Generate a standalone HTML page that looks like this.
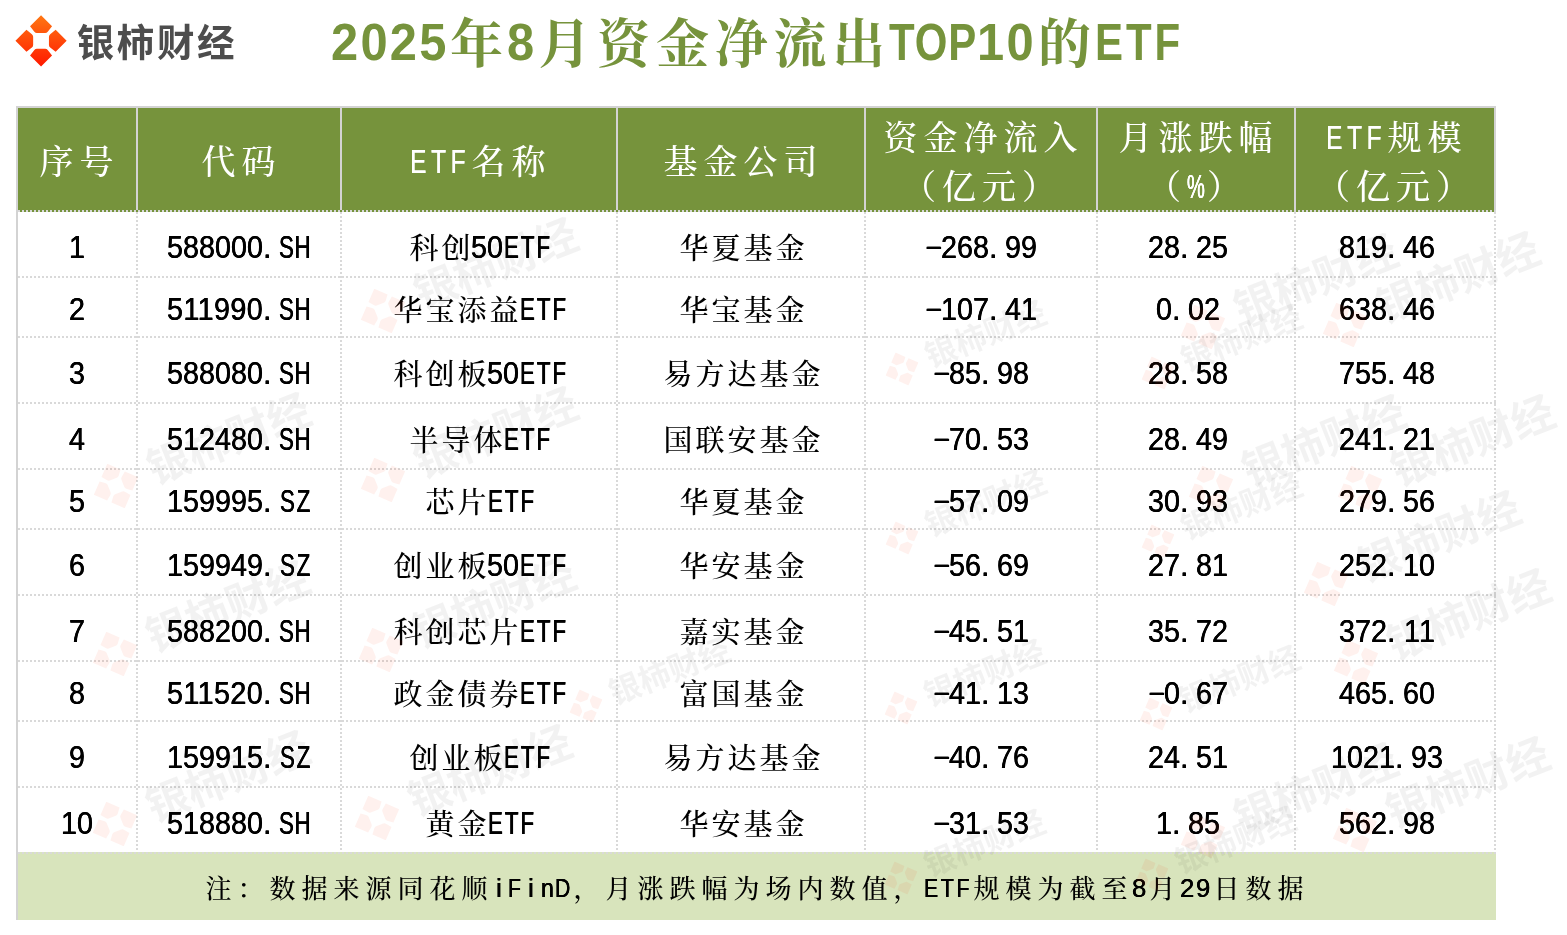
<!DOCTYPE html>
<html lang="zh-CN">
<head>
<meta charset="utf-8">
<title>2025年8月资金净流出TOP10的ETF</title>
<style>
html,body{margin:0;padding:0;background:#fff}
body{width:1567px;height:935px;overflow:hidden}
.sheet{position:relative;width:1567px;height:935px;overflow:hidden;background:#fff;
  font-family:"Liberation Serif","Noto Serif CJK SC",serif;font-weight:500;color:#000}
.z{position:relative}
.l{font-family:"Liberation Sans","Noto Sans CJK SC",sans-serif;font-weight:400;letter-spacing:0;line-height:0;white-space:nowrap;position:relative}
.w{display:inline-block;white-space:nowrap;text-align:left;vertical-align:baseline}
.w>span{display:inline-block;transform-origin:0 50%}
.k{text-align:center}
.k>span{transform-origin:50% 50%}
.p{display:inline-block;text-align:left}
.m>span{transform:translate(.6px,-2.3px) scale(1.83,.9)}
.d,.p,.k{text-shadow:.35px 0 0 currentColor,-.2px 0 0 currentColor}
.u{text-shadow:.45px 0 0 currentColor,-.3px 0 0 currentColor}
.logo{position:absolute;left:10px;top:10px;width:62px;height:62px}
.logo svg{display:block}
.brand{position:absolute;left:76.7px;top:16px;margin:0;height:54px;line-height:54px;white-space:nowrap;
  font-family:"Liberation Sans","Noto Sans CJK SC",sans-serif;font-weight:700;font-size:37.5px;letter-spacing:2.6px;color:#4d4d4d}
.title{position:absolute;left:329.5px;top:6px;margin:0;height:72px;line-height:72px;white-space:nowrap;
  font-weight:700;color:#76933c;font-size:53px}
.title .z{letter-spacing:5.8px;left:3px;top:3px}
.title .l{font-size:52.5px;font-weight:700}
.title .d,.title .u{text-shadow:none}
.t{position:absolute;left:18px;top:108px;width:1478px;border-collapse:collapse;border-spacing:0;table-layout:fixed}
.t th,.t td{padding:0 2px 0 0;border:0;margin:0;font-weight:500;text-align:center;vertical-align:top;overflow:hidden}
.t .c{display:block;overflow:hidden;white-space:nowrap;text-align:center}
.t thead th{background:#76933c;color:#fff;height:104px}
.t thead .c{height:104px;font-size:34px}
.t thead .z{letter-spacing:6px;left:2.5px}
.t thead .l{font-size:33.5px;top:-1px;left:-1.5px}
.t thead .ln+.ln .z{left:1px}
.t thead .ln+.ln .l{left:0}
.t thead .u{text-shadow:.3px 0 0 currentColor}
.t thead .pc{position:relative;left:-5.5px}
.t thead .ln{display:block;overflow:hidden;white-space:nowrap}
.t thead .one .ln{height:104px;line-height:109px}
.t thead .two .ln{height:50px;line-height:61px}
.t thead .two .ln+.ln{height:54px;line-height:60px}
.t tbody .c{font-size:29px}
.t tbody .sp .c{padding-right:16px}
.t tbody .z{letter-spacing:3px;left:2.5px;top:1.5px}
.t tbody .l{font-size:30.5px;top:.6px}
.t tr.ra td,.t tr.ra .c{height:66px;line-height:70px}
.t tr.rb td,.t tr.rb .c{height:60px;line-height:62px}
.t tr.rc td,.t tr.rc .c{height:64px;line-height:70px}
.t tfoot td{background:#d8e4bc;height:68px;padding:0}
.t tfoot .c{height:68px;line-height:75px;font-size:26px}
.t tfoot .z{letter-spacing:6px;left:0.5px}
.t tfoot .l{font-size:26.5px;left:-2px;top:-1px}
.grid i{position:absolute;display:block}
.hs{background:#d3d3d3}
.hd{background:repeating-linear-gradient(90deg,#d9d9d9 0,#d9d9d9 2px,transparent 2px,transparent 4px)}
.vd{background:repeating-linear-gradient(180deg,#d9d9d9 0,#d9d9d9 2px,transparent 2px,transparent 4px)}
.wm{position:absolute;left:0;top:0;width:1567px;height:935px;overflow:hidden;pointer-events:none}
.wk{position:absolute;height:48px;line-height:48px;white-space:nowrap;transform-origin:24px 24px;transform:rotate(-21.5deg);
  font-family:"Liberation Sans","Noto Sans CJK SC",sans-serif;font-weight:700;font-size:43px;color:rgba(0,0,0,.052)}
.wk svg{position:absolute;left:0;top:0;fill:rgba(255,50,10,.07)}
.wk span{position:absolute;left:60px;top:-2px}
.ws{transform:rotate(-21.5deg) scale(.74)}
</style>
</head>
<body>
<div class="sheet">
<div class="logo"><svg width="62" height="62" viewBox="0 0 62 62" role="img" aria-label="logo"><defs><linearGradient id="lg" gradientUnits="userSpaceOnUse" x1="0" y1="5" x2="0" y2="57"><stop offset="0" stop-color="#ff7713"/><stop offset="1" stop-color="#ff1800"/></linearGradient></defs><path fill="url(#lg)" d="M31.05,5.25L42.05,16.25L37.74,21.70Q36.75,22.95 35.15,22.95L26.95,22.95Q25.35,22.95 24.36,21.70L20.05,16.25Z M56.65,30.85L45.65,41.85L40.20,37.54Q38.95,36.55 38.95,34.95L38.95,26.75Q38.95,25.15 40.20,24.16L45.65,19.85Z M31.05,56.45L20.05,45.45L24.36,40.00Q25.35,38.75 26.95,38.75L35.15,38.75Q36.75,38.75 37.74,40.00L42.05,45.45Z M5.45,30.85L16.45,19.85L21.90,24.16Q23.15,25.15 23.15,26.75L23.15,34.95Q23.15,36.55 21.90,37.54L16.45,41.85Z"/></svg></div>
<div class="brand">银柿财经</div>
<h1 class="title"><span class="l"><span class="w d" style="width:117.6px"><span style="transform:scaleX(0.930);letter-spacing:2.41px;margin-left:1.12px">2025</span></span></span><span class="z">年</span><span class="l"><span class="w d" style="width:29.4px"><span style="transform:scaleX(0.930);letter-spacing:2.41px;margin-left:1.12px">8</span></span></span><span class="z">月资金净流出</span><span class="l"><span class="w u" style="width:88.2px"><span style="transform:scaleX(0.800);letter-spacing:1.09px;margin-left:0.44px">TOP</span></span><span class="w d" style="width:58.8px"><span style="transform:scaleX(0.930);letter-spacing:2.41px;margin-left:1.12px">10</span></span></span><span class="z">的</span><span class="l"><span class="w u" style="width:88.2px"><span style="transform:scaleX(0.800);letter-spacing:3.70px;margin-left:1.48px">ETF</span></span></span></h1>
<table class="t">
<colgroup><col style="width:120px"><col style="width:204px"><col style="width:276px"><col style="width:248px"><col style="width:232px"><col style="width:198px"><col style="width:200px"></colgroup>
<thead>
<tr><th><div class="c one"><span class="ln"><span class="z">序号</span></span></div></th><th><div class="c one"><span class="ln"><span class="z">代码</span></span></div></th><th><div class="c one"><span class="ln"><span class="l"><span class="w u" style="width:60px"><span style="transform:scaleX(0.730);letter-spacing:6.31px;margin-left:2.30px">ETF</span></span></span><span class="z">名称</span></span></div></th><th><div class="c one"><span class="ln"><span class="z">基金公司</span></span></div></th><th><div class="c two"><span class="ln"><span class="z">资金净流入</span></span><span class="ln"><span class="z">（亿元）</span></span></div></th><th><div class="c two"><span class="ln"><span class="z">月涨跌幅</span></span><span class="ln"><span class="z">（</span><span class="l"><span class="w k pc" style="width:20px"><span style="transform:scaleX(0.604)">%</span></span></span><span class="z">）</span></span></div></th><th><div class="c two"><span class="ln"><span class="l"><span class="w u" style="width:60px"><span style="transform:scaleX(0.730);letter-spacing:6.31px;margin-left:2.30px">ETF</span></span></span><span class="z">规模</span></span><span class="ln"><span class="z">（亿元）</span></span></div></th></tr>
</thead>
<tbody>
<tr class="ra"><td><div class="c"><span class="l"><span class="w d" style="width:16px"><span style="transform:scaleX(0.940);letter-spacing:0.06px;margin-left:0.03px">1</span></span></span></div></td><td><div class="c"><span class="l"><span class="w d" style="width:96px"><span style="transform:scaleX(0.940);letter-spacing:0.06px;margin-left:0.03px">588000</span></span><span class="p" style="width:16px">.</span><span class="w u" style="width:32px"><span style="transform:scaleX(0.730);letter-spacing:0.73px;margin-left:0.27px">SH</span></span></span></div></td><td><div class="c"><span class="z">科创</span><span class="l"><span class="w d" style="width:32px"><span style="transform:scaleX(0.940);letter-spacing:0.06px;margin-left:0.03px">50</span></span><span class="w u" style="width:48px"><span style="transform:scaleX(0.730);letter-spacing:2.72px;margin-left:0.99px">ETF</span></span></span></div></td><td><div class="c"><span class="z">华夏基金</span></div></td><td><div class="c"><span class="l"><span class="w k m" style="width:16px"><span>-</span></span><span class="w d" style="width:48px"><span style="transform:scaleX(0.940);letter-spacing:0.06px;margin-left:0.03px">268</span></span><span class="p" style="width:16px">.</span><span class="w d" style="width:32px"><span style="transform:scaleX(0.940);letter-spacing:0.06px;margin-left:0.03px">99</span></span></span></div></td><td class="sp"><div class="c"><span class="l"><span class="w d" style="width:32px"><span style="transform:scaleX(0.940);letter-spacing:0.06px;margin-left:0.03px">28</span></span><span class="p" style="width:16px">.</span><span class="w d" style="width:32px"><span style="transform:scaleX(0.940);letter-spacing:0.06px;margin-left:0.03px">25</span></span></span></div></td><td class="sp"><div class="c"><span class="l"><span class="w d" style="width:48px"><span style="transform:scaleX(0.940);letter-spacing:0.06px;margin-left:0.03px">819</span></span><span class="p" style="width:16px">.</span><span class="w d" style="width:32px"><span style="transform:scaleX(0.940);letter-spacing:0.06px;margin-left:0.03px">46</span></span></span></div></td></tr>
<tr class="rb"><td><div class="c"><span class="l"><span class="w d" style="width:16px"><span style="transform:scaleX(0.940);letter-spacing:0.06px;margin-left:0.03px">2</span></span></span></div></td><td><div class="c"><span class="l"><span class="w d" style="width:96px"><span style="transform:scaleX(0.940);letter-spacing:0.44px;margin-left:0.20px">511990</span></span><span class="p" style="width:16px">.</span><span class="w u" style="width:32px"><span style="transform:scaleX(0.730);letter-spacing:0.73px;margin-left:0.27px">SH</span></span></span></div></td><td><div class="c"><span class="z">华宝添益</span><span class="l"><span class="w u" style="width:48px"><span style="transform:scaleX(0.730);letter-spacing:2.72px;margin-left:0.99px">ETF</span></span></span></div></td><td><div class="c"><span class="z">华宝基金</span></div></td><td><div class="c"><span class="l"><span class="w k m" style="width:16px"><span>-</span></span><span class="w d" style="width:48px"><span style="transform:scaleX(0.940);letter-spacing:0.06px;margin-left:0.03px">107</span></span><span class="p" style="width:16px">.</span><span class="w d" style="width:32px"><span style="transform:scaleX(0.940);letter-spacing:0.06px;margin-left:0.03px">41</span></span></span></div></td><td class="sp"><div class="c"><span class="l"><span class="w d" style="width:16px"><span style="transform:scaleX(0.940);letter-spacing:0.06px;margin-left:0.03px">0</span></span><span class="p" style="width:16px">.</span><span class="w d" style="width:32px"><span style="transform:scaleX(0.940);letter-spacing:0.06px;margin-left:0.03px">02</span></span></span></div></td><td class="sp"><div class="c"><span class="l"><span class="w d" style="width:48px"><span style="transform:scaleX(0.940);letter-spacing:0.06px;margin-left:0.03px">638</span></span><span class="p" style="width:16px">.</span><span class="w d" style="width:32px"><span style="transform:scaleX(0.940);letter-spacing:0.06px;margin-left:0.03px">46</span></span></span></div></td></tr>
<tr class="ra"><td><div class="c"><span class="l"><span class="w d" style="width:16px"><span style="transform:scaleX(0.940);letter-spacing:0.06px;margin-left:0.03px">3</span></span></span></div></td><td><div class="c"><span class="l"><span class="w d" style="width:96px"><span style="transform:scaleX(0.940);letter-spacing:0.06px;margin-left:0.03px">588080</span></span><span class="p" style="width:16px">.</span><span class="w u" style="width:32px"><span style="transform:scaleX(0.730);letter-spacing:0.73px;margin-left:0.27px">SH</span></span></span></div></td><td><div class="c"><span class="z">科创板</span><span class="l"><span class="w d" style="width:32px"><span style="transform:scaleX(0.940);letter-spacing:0.06px;margin-left:0.03px">50</span></span><span class="w u" style="width:48px"><span style="transform:scaleX(0.730);letter-spacing:2.72px;margin-left:0.99px">ETF</span></span></span></div></td><td><div class="c"><span class="z">易方达基金</span></div></td><td><div class="c"><span class="l"><span class="w k m" style="width:16px"><span>-</span></span><span class="w d" style="width:32px"><span style="transform:scaleX(0.940);letter-spacing:0.06px;margin-left:0.03px">85</span></span><span class="p" style="width:16px">.</span><span class="w d" style="width:32px"><span style="transform:scaleX(0.940);letter-spacing:0.06px;margin-left:0.03px">98</span></span></span></div></td><td class="sp"><div class="c"><span class="l"><span class="w d" style="width:32px"><span style="transform:scaleX(0.940);letter-spacing:0.06px;margin-left:0.03px">28</span></span><span class="p" style="width:16px">.</span><span class="w d" style="width:32px"><span style="transform:scaleX(0.940);letter-spacing:0.06px;margin-left:0.03px">58</span></span></span></div></td><td class="sp"><div class="c"><span class="l"><span class="w d" style="width:48px"><span style="transform:scaleX(0.940);letter-spacing:0.06px;margin-left:0.03px">755</span></span><span class="p" style="width:16px">.</span><span class="w d" style="width:32px"><span style="transform:scaleX(0.940);letter-spacing:0.06px;margin-left:0.03px">48</span></span></span></div></td></tr>
<tr class="ra"><td><div class="c"><span class="l"><span class="w d" style="width:16px"><span style="transform:scaleX(0.940);letter-spacing:0.06px;margin-left:0.03px">4</span></span></span></div></td><td><div class="c"><span class="l"><span class="w d" style="width:96px"><span style="transform:scaleX(0.940);letter-spacing:0.06px;margin-left:0.03px">512480</span></span><span class="p" style="width:16px">.</span><span class="w u" style="width:32px"><span style="transform:scaleX(0.730);letter-spacing:0.73px;margin-left:0.27px">SH</span></span></span></div></td><td><div class="c"><span class="z">半导体</span><span class="l"><span class="w u" style="width:48px"><span style="transform:scaleX(0.730);letter-spacing:2.72px;margin-left:0.99px">ETF</span></span></span></div></td><td><div class="c"><span class="z">国联安基金</span></div></td><td><div class="c"><span class="l"><span class="w k m" style="width:16px"><span>-</span></span><span class="w d" style="width:32px"><span style="transform:scaleX(0.940);letter-spacing:0.06px;margin-left:0.03px">70</span></span><span class="p" style="width:16px">.</span><span class="w d" style="width:32px"><span style="transform:scaleX(0.940);letter-spacing:0.06px;margin-left:0.03px">53</span></span></span></div></td><td class="sp"><div class="c"><span class="l"><span class="w d" style="width:32px"><span style="transform:scaleX(0.940);letter-spacing:0.06px;margin-left:0.03px">28</span></span><span class="p" style="width:16px">.</span><span class="w d" style="width:32px"><span style="transform:scaleX(0.940);letter-spacing:0.06px;margin-left:0.03px">49</span></span></span></div></td><td class="sp"><div class="c"><span class="l"><span class="w d" style="width:48px"><span style="transform:scaleX(0.940);letter-spacing:0.06px;margin-left:0.03px">241</span></span><span class="p" style="width:16px">.</span><span class="w d" style="width:32px"><span style="transform:scaleX(0.940);letter-spacing:0.06px;margin-left:0.03px">21</span></span></span></div></td></tr>
<tr class="rb"><td><div class="c"><span class="l"><span class="w d" style="width:16px"><span style="transform:scaleX(0.940);letter-spacing:0.06px;margin-left:0.03px">5</span></span></span></div></td><td><div class="c"><span class="l"><span class="w d" style="width:96px"><span style="transform:scaleX(0.940);letter-spacing:0.06px;margin-left:0.03px">159995</span></span><span class="p" style="width:16px">.</span><span class="w u" style="width:32px"><span style="transform:scaleX(0.730);letter-spacing:2.43px;margin-left:0.89px">SZ</span></span></span></div></td><td><div class="c"><span class="z">芯片</span><span class="l"><span class="w u" style="width:48px"><span style="transform:scaleX(0.730);letter-spacing:2.72px;margin-left:0.99px">ETF</span></span></span></div></td><td><div class="c"><span class="z">华夏基金</span></div></td><td><div class="c"><span class="l"><span class="w k m" style="width:16px"><span>-</span></span><span class="w d" style="width:32px"><span style="transform:scaleX(0.940);letter-spacing:0.06px;margin-left:0.03px">57</span></span><span class="p" style="width:16px">.</span><span class="w d" style="width:32px"><span style="transform:scaleX(0.940);letter-spacing:0.06px;margin-left:0.03px">09</span></span></span></div></td><td class="sp"><div class="c"><span class="l"><span class="w d" style="width:32px"><span style="transform:scaleX(0.940);letter-spacing:0.06px;margin-left:0.03px">30</span></span><span class="p" style="width:16px">.</span><span class="w d" style="width:32px"><span style="transform:scaleX(0.940);letter-spacing:0.06px;margin-left:0.03px">93</span></span></span></div></td><td class="sp"><div class="c"><span class="l"><span class="w d" style="width:48px"><span style="transform:scaleX(0.940);letter-spacing:0.06px;margin-left:0.03px">279</span></span><span class="p" style="width:16px">.</span><span class="w d" style="width:32px"><span style="transform:scaleX(0.940);letter-spacing:0.06px;margin-left:0.03px">56</span></span></span></div></td></tr>
<tr class="ra"><td><div class="c"><span class="l"><span class="w d" style="width:16px"><span style="transform:scaleX(0.940);letter-spacing:0.06px;margin-left:0.03px">6</span></span></span></div></td><td><div class="c"><span class="l"><span class="w d" style="width:96px"><span style="transform:scaleX(0.940);letter-spacing:0.06px;margin-left:0.03px">159949</span></span><span class="p" style="width:16px">.</span><span class="w u" style="width:32px"><span style="transform:scaleX(0.730);letter-spacing:2.43px;margin-left:0.89px">SZ</span></span></span></div></td><td><div class="c"><span class="z">创业板</span><span class="l"><span class="w d" style="width:32px"><span style="transform:scaleX(0.940);letter-spacing:0.06px;margin-left:0.03px">50</span></span><span class="w u" style="width:48px"><span style="transform:scaleX(0.730);letter-spacing:2.72px;margin-left:0.99px">ETF</span></span></span></div></td><td><div class="c"><span class="z">华安基金</span></div></td><td><div class="c"><span class="l"><span class="w k m" style="width:16px"><span>-</span></span><span class="w d" style="width:32px"><span style="transform:scaleX(0.940);letter-spacing:0.06px;margin-left:0.03px">56</span></span><span class="p" style="width:16px">.</span><span class="w d" style="width:32px"><span style="transform:scaleX(0.940);letter-spacing:0.06px;margin-left:0.03px">69</span></span></span></div></td><td class="sp"><div class="c"><span class="l"><span class="w d" style="width:32px"><span style="transform:scaleX(0.940);letter-spacing:0.06px;margin-left:0.03px">27</span></span><span class="p" style="width:16px">.</span><span class="w d" style="width:32px"><span style="transform:scaleX(0.940);letter-spacing:0.06px;margin-left:0.03px">81</span></span></span></div></td><td class="sp"><div class="c"><span class="l"><span class="w d" style="width:48px"><span style="transform:scaleX(0.940);letter-spacing:0.06px;margin-left:0.03px">252</span></span><span class="p" style="width:16px">.</span><span class="w d" style="width:32px"><span style="transform:scaleX(0.940);letter-spacing:0.06px;margin-left:0.03px">10</span></span></span></div></td></tr>
<tr class="ra"><td><div class="c"><span class="l"><span class="w d" style="width:16px"><span style="transform:scaleX(0.940);letter-spacing:0.06px;margin-left:0.03px">7</span></span></span></div></td><td><div class="c"><span class="l"><span class="w d" style="width:96px"><span style="transform:scaleX(0.940);letter-spacing:0.06px;margin-left:0.03px">588200</span></span><span class="p" style="width:16px">.</span><span class="w u" style="width:32px"><span style="transform:scaleX(0.730);letter-spacing:0.73px;margin-left:0.27px">SH</span></span></span></div></td><td><div class="c"><span class="z">科创芯片</span><span class="l"><span class="w u" style="width:48px"><span style="transform:scaleX(0.730);letter-spacing:2.72px;margin-left:0.99px">ETF</span></span></span></div></td><td><div class="c"><span class="z">嘉实基金</span></div></td><td><div class="c"><span class="l"><span class="w k m" style="width:16px"><span>-</span></span><span class="w d" style="width:32px"><span style="transform:scaleX(0.940);letter-spacing:0.06px;margin-left:0.03px">45</span></span><span class="p" style="width:16px">.</span><span class="w d" style="width:32px"><span style="transform:scaleX(0.940);letter-spacing:0.06px;margin-left:0.03px">51</span></span></span></div></td><td class="sp"><div class="c"><span class="l"><span class="w d" style="width:32px"><span style="transform:scaleX(0.940);letter-spacing:0.06px;margin-left:0.03px">35</span></span><span class="p" style="width:16px">.</span><span class="w d" style="width:32px"><span style="transform:scaleX(0.940);letter-spacing:0.06px;margin-left:0.03px">72</span></span></span></div></td><td class="sp"><div class="c"><span class="l"><span class="w d" style="width:48px"><span style="transform:scaleX(0.940);letter-spacing:0.06px;margin-left:0.03px">372</span></span><span class="p" style="width:16px">.</span><span class="w d" style="width:32px"><span style="transform:scaleX(0.940);letter-spacing:1.19px;margin-left:0.56px">11</span></span></span></div></td></tr>
<tr class="rb"><td><div class="c"><span class="l"><span class="w d" style="width:16px"><span style="transform:scaleX(0.940);letter-spacing:0.06px;margin-left:0.03px">8</span></span></span></div></td><td><div class="c"><span class="l"><span class="w d" style="width:96px"><span style="transform:scaleX(0.940);letter-spacing:0.44px;margin-left:0.20px">511520</span></span><span class="p" style="width:16px">.</span><span class="w u" style="width:32px"><span style="transform:scaleX(0.730);letter-spacing:0.73px;margin-left:0.27px">SH</span></span></span></div></td><td><div class="c"><span class="z">政金债券</span><span class="l"><span class="w u" style="width:48px"><span style="transform:scaleX(0.730);letter-spacing:2.72px;margin-left:0.99px">ETF</span></span></span></div></td><td><div class="c"><span class="z">富国基金</span></div></td><td><div class="c"><span class="l"><span class="w k m" style="width:16px"><span>-</span></span><span class="w d" style="width:32px"><span style="transform:scaleX(0.940);letter-spacing:0.06px;margin-left:0.03px">41</span></span><span class="p" style="width:16px">.</span><span class="w d" style="width:32px"><span style="transform:scaleX(0.940);letter-spacing:0.06px;margin-left:0.03px">13</span></span></span></div></td><td class="sp"><div class="c"><span class="l"><span class="w k m" style="width:16px"><span>-</span></span><span class="w d" style="width:16px"><span style="transform:scaleX(0.940);letter-spacing:0.06px;margin-left:0.03px">0</span></span><span class="p" style="width:16px">.</span><span class="w d" style="width:32px"><span style="transform:scaleX(0.940);letter-spacing:0.06px;margin-left:0.03px">67</span></span></span></div></td><td class="sp"><div class="c"><span class="l"><span class="w d" style="width:48px"><span style="transform:scaleX(0.940);letter-spacing:0.06px;margin-left:0.03px">465</span></span><span class="p" style="width:16px">.</span><span class="w d" style="width:32px"><span style="transform:scaleX(0.940);letter-spacing:0.06px;margin-left:0.03px">60</span></span></span></div></td></tr>
<tr class="ra"><td><div class="c"><span class="l"><span class="w d" style="width:16px"><span style="transform:scaleX(0.940);letter-spacing:0.06px;margin-left:0.03px">9</span></span></span></div></td><td><div class="c"><span class="l"><span class="w d" style="width:96px"><span style="transform:scaleX(0.940);letter-spacing:0.06px;margin-left:0.03px">159915</span></span><span class="p" style="width:16px">.</span><span class="w u" style="width:32px"><span style="transform:scaleX(0.730);letter-spacing:2.43px;margin-left:0.89px">SZ</span></span></span></div></td><td><div class="c"><span class="z">创业板</span><span class="l"><span class="w u" style="width:48px"><span style="transform:scaleX(0.730);letter-spacing:2.72px;margin-left:0.99px">ETF</span></span></span></div></td><td><div class="c"><span class="z">易方达基金</span></div></td><td><div class="c"><span class="l"><span class="w k m" style="width:16px"><span>-</span></span><span class="w d" style="width:32px"><span style="transform:scaleX(0.940);letter-spacing:0.06px;margin-left:0.03px">40</span></span><span class="p" style="width:16px">.</span><span class="w d" style="width:32px"><span style="transform:scaleX(0.940);letter-spacing:0.06px;margin-left:0.03px">76</span></span></span></div></td><td class="sp"><div class="c"><span class="l"><span class="w d" style="width:32px"><span style="transform:scaleX(0.940);letter-spacing:0.06px;margin-left:0.03px">24</span></span><span class="p" style="width:16px">.</span><span class="w d" style="width:32px"><span style="transform:scaleX(0.940);letter-spacing:0.06px;margin-left:0.03px">51</span></span></span></div></td><td class="sp"><div class="c"><span class="l"><span class="w d" style="width:64px"><span style="transform:scaleX(0.940);letter-spacing:0.06px;margin-left:0.03px">1021</span></span><span class="p" style="width:16px">.</span><span class="w d" style="width:32px"><span style="transform:scaleX(0.940);letter-spacing:0.06px;margin-left:0.03px">93</span></span></span></div></td></tr>
<tr class="rc"><td><div class="c"><span class="l"><span class="w d" style="width:32px"><span style="transform:scaleX(0.940);letter-spacing:0.06px;margin-left:0.03px">10</span></span></span></div></td><td><div class="c"><span class="l"><span class="w d" style="width:96px"><span style="transform:scaleX(0.940);letter-spacing:0.06px;margin-left:0.03px">518880</span></span><span class="p" style="width:16px">.</span><span class="w u" style="width:32px"><span style="transform:scaleX(0.730);letter-spacing:0.73px;margin-left:0.27px">SH</span></span></span></div></td><td><div class="c"><span class="z">黄金</span><span class="l"><span class="w u" style="width:48px"><span style="transform:scaleX(0.730);letter-spacing:2.72px;margin-left:0.99px">ETF</span></span></span></div></td><td><div class="c"><span class="z">华安基金</span></div></td><td><div class="c"><span class="l"><span class="w k m" style="width:16px"><span>-</span></span><span class="w d" style="width:32px"><span style="transform:scaleX(0.940);letter-spacing:0.06px;margin-left:0.03px">31</span></span><span class="p" style="width:16px">.</span><span class="w d" style="width:32px"><span style="transform:scaleX(0.940);letter-spacing:0.06px;margin-left:0.03px">53</span></span></span></div></td><td class="sp"><div class="c"><span class="l"><span class="w d" style="width:16px"><span style="transform:scaleX(0.940);letter-spacing:0.06px;margin-left:0.03px">1</span></span><span class="p" style="width:16px">.</span><span class="w d" style="width:32px"><span style="transform:scaleX(0.940);letter-spacing:0.06px;margin-left:0.03px">85</span></span></span></div></td><td class="sp"><div class="c"><span class="l"><span class="w d" style="width:48px"><span style="transform:scaleX(0.940);letter-spacing:0.06px;margin-left:0.03px">562</span></span><span class="p" style="width:16px">.</span><span class="w d" style="width:32px"><span style="transform:scaleX(0.940);letter-spacing:0.06px;margin-left:0.03px">98</span></span></span></div></td></tr>
</tbody>
<tfoot>
<tr><td colspan="7"><div class="c f"><span class="z">注：数据来源同花顺</span><span class="l"><span class="w k" style="width:16px"><span style="transform:scaleX(1.000)">i</span></span><span class="w u" style="width:16px"><span style="transform:scaleX(0.800);letter-spacing:3.81px;margin-left:1.53px">F</span></span><span class="w k" style="width:16px"><span style="transform:scaleX(1.000)">i</span></span><span class="w k" style="width:16px"><span style="transform:scaleX(0.882)">n</span></span><span class="w u" style="width:16px"><span style="transform:scaleX(0.800);letter-spacing:0.86px;margin-left:0.34px">D</span></span></span><span class="z">，月涨跌幅为场内数值，</span><span class="l"><span class="w u" style="width:48px"><span style="transform:scaleX(0.800);letter-spacing:3.32px;margin-left:1.33px">ETF</span></span></span><span class="z">规模为截至</span><span class="l"><span class="w d" style="width:16px"><span style="transform:scaleX(0.970);letter-spacing:1.76px;margin-left:0.85px">8</span></span></span><span class="z">月</span><span class="l"><span class="w d" style="width:32px"><span style="transform:scaleX(0.970);letter-spacing:1.76px;margin-left:0.85px">29</span></span></span><span class="z">日数据</span></div></td></tr>
</tfoot>
</table>
<div class="grid">
<i class="hs" style="left:16px;top:106px;width:1480px;height:2px"></i>
<i class="hs" style="left:16px;top:106px;width:2px;height:814px"></i>
<i class="hs" style="left:136px;top:108px;width:2px;height:102px"></i><i class="hs" style="left:340px;top:108px;width:2px;height:102px"></i><i class="hs" style="left:616px;top:108px;width:2px;height:102px"></i><i class="hs" style="left:864px;top:108px;width:2px;height:102px"></i><i class="hs" style="left:1096px;top:108px;width:2px;height:102px"></i><i class="hs" style="left:1294px;top:108px;width:2px;height:102px"></i><i class="hs" style="left:1494px;top:106px;width:2px;height:104px"></i>
<i class="hd" style="left:18px;top:210px;width:1478px;height:2px"></i>
<i class="hd" style="left:18px;top:276px;width:1478px;height:2px"></i><i class="hd" style="left:18px;top:336px;width:1478px;height:2px"></i><i class="hd" style="left:18px;top:402px;width:1478px;height:2px"></i><i class="hd" style="left:18px;top:468px;width:1478px;height:2px"></i><i class="hd" style="left:18px;top:528px;width:1478px;height:2px"></i><i class="hd" style="left:18px;top:594px;width:1478px;height:2px"></i><i class="hd" style="left:18px;top:660px;width:1478px;height:2px"></i><i class="hd" style="left:18px;top:720px;width:1478px;height:2px"></i><i class="hd" style="left:18px;top:786px;width:1478px;height:2px"></i><i class="hd" style="left:18px;top:852px;width:1478px;height:2px"></i>
<i class="vd" style="left:136px;top:212px;width:2px;height:640px"></i><i class="vd" style="left:340px;top:212px;width:2px;height:640px"></i><i class="vd" style="left:616px;top:212px;width:2px;height:640px"></i><i class="vd" style="left:864px;top:212px;width:2px;height:640px"></i><i class="vd" style="left:1096px;top:212px;width:2px;height:640px"></i><i class="vd" style="left:1294px;top:212px;width:2px;height:640px"></i><i class="vd" style="left:1494px;top:212px;width:2px;height:640px"></i>
</div>
<div class="wm" aria-hidden="true">
<div class="wk wb" style="left:92px;top:462px"><svg width="48" height="48" viewBox="0 0 48 48"><path d="M24.00,0.19L34.23,10.42L30.22,15.49Q29.30,16.65 27.81,16.65L20.19,16.65Q18.70,16.65 17.78,15.49L13.77,10.42Z M47.81,24.00L37.58,34.23L32.51,30.22Q31.35,29.30 31.35,27.81L31.35,20.19Q31.35,18.70 32.51,17.78L37.58,13.77Z M24.00,47.81L13.77,37.58L17.78,32.51Q18.70,31.35 20.19,31.35L27.81,31.35Q29.30,31.35 30.22,32.51L34.23,37.58Z M0.19,24.00L10.42,13.77L15.49,17.78Q16.65,18.70 16.65,20.19L16.65,27.81Q16.65,29.30 15.49,30.22L10.42,34.23Z"/></svg><span>银柿财经</span></div>
<div class="wk wb" style="left:91px;top:630px"><svg width="48" height="48" viewBox="0 0 48 48"><path d="M24.00,0.19L34.23,10.42L30.22,15.49Q29.30,16.65 27.81,16.65L20.19,16.65Q18.70,16.65 17.78,15.49L13.77,10.42Z M47.81,24.00L37.58,34.23L32.51,30.22Q31.35,29.30 31.35,27.81L31.35,20.19Q31.35,18.70 32.51,17.78L37.58,13.77Z M24.00,47.81L13.77,37.58L17.78,32.51Q18.70,31.35 20.19,31.35L27.81,31.35Q29.30,31.35 30.22,32.51L34.23,37.58Z M0.19,24.00L10.42,13.77L15.49,17.78Q16.65,18.70 16.65,20.19L16.65,27.81Q16.65,29.30 15.49,30.22L10.42,34.23Z"/></svg><span>银柿财经</span></div>
<div class="wk wb" style="left:91px;top:800px"><svg width="48" height="48" viewBox="0 0 48 48"><path d="M24.00,0.19L34.23,10.42L30.22,15.49Q29.30,16.65 27.81,16.65L20.19,16.65Q18.70,16.65 17.78,15.49L13.77,10.42Z M47.81,24.00L37.58,34.23L32.51,30.22Q31.35,29.30 31.35,27.81L31.35,20.19Q31.35,18.70 32.51,17.78L37.58,13.77Z M24.00,47.81L13.77,37.58L17.78,32.51Q18.70,31.35 20.19,31.35L27.81,31.35Q29.30,31.35 30.22,32.51L34.23,37.58Z M0.19,24.00L10.42,13.77L15.49,17.78Q16.65,18.70 16.65,20.19L16.65,27.81Q16.65,29.30 15.49,30.22L10.42,34.23Z"/></svg><span>银柿财经</span></div>
<div class="wk wb" style="left:359px;top:287px"><svg width="48" height="48" viewBox="0 0 48 48"><path d="M24.00,0.19L34.23,10.42L30.22,15.49Q29.30,16.65 27.81,16.65L20.19,16.65Q18.70,16.65 17.78,15.49L13.77,10.42Z M47.81,24.00L37.58,34.23L32.51,30.22Q31.35,29.30 31.35,27.81L31.35,20.19Q31.35,18.70 32.51,17.78L37.58,13.77Z M24.00,47.81L13.77,37.58L17.78,32.51Q18.70,31.35 20.19,31.35L27.81,31.35Q29.30,31.35 30.22,32.51L34.23,37.58Z M0.19,24.00L10.42,13.77L15.49,17.78Q16.65,18.70 16.65,20.19L16.65,27.81Q16.65,29.30 15.49,30.22L10.42,34.23Z"/></svg><span>银柿财经</span></div>
<div class="wk wb" style="left:359px;top:456px"><svg width="48" height="48" viewBox="0 0 48 48"><path d="M24.00,0.19L34.23,10.42L30.22,15.49Q29.30,16.65 27.81,16.65L20.19,16.65Q18.70,16.65 17.78,15.49L13.77,10.42Z M47.81,24.00L37.58,34.23L32.51,30.22Q31.35,29.30 31.35,27.81L31.35,20.19Q31.35,18.70 32.51,17.78L37.58,13.77Z M24.00,47.81L13.77,37.58L17.78,32.51Q18.70,31.35 20.19,31.35L27.81,31.35Q29.30,31.35 30.22,32.51L34.23,37.58Z M0.19,24.00L10.42,13.77L15.49,17.78Q16.65,18.70 16.65,20.19L16.65,27.81Q16.65,29.30 15.49,30.22L10.42,34.23Z"/></svg><span>银柿财经</span></div>
<div class="wk wb" style="left:357px;top:626px"><svg width="48" height="48" viewBox="0 0 48 48"><path d="M24.00,0.19L34.23,10.42L30.22,15.49Q29.30,16.65 27.81,16.65L20.19,16.65Q18.70,16.65 17.78,15.49L13.77,10.42Z M47.81,24.00L37.58,34.23L32.51,30.22Q31.35,29.30 31.35,27.81L31.35,20.19Q31.35,18.70 32.51,17.78L37.58,13.77Z M24.00,47.81L13.77,37.58L17.78,32.51Q18.70,31.35 20.19,31.35L27.81,31.35Q29.30,31.35 30.22,32.51L34.23,37.58Z M0.19,24.00L10.42,13.77L15.49,17.78Q16.65,18.70 16.65,20.19L16.65,27.81Q16.65,29.30 15.49,30.22L10.42,34.23Z"/></svg><span>银柿财经</span></div>
<div class="wk wb" style="left:353px;top:794px"><svg width="48" height="48" viewBox="0 0 48 48"><path d="M24.00,0.19L34.23,10.42L30.22,15.49Q29.30,16.65 27.81,16.65L20.19,16.65Q18.70,16.65 17.78,15.49L13.77,10.42Z M47.81,24.00L37.58,34.23L32.51,30.22Q31.35,29.30 31.35,27.81L31.35,20.19Q31.35,18.70 32.51,17.78L37.58,13.77Z M24.00,47.81L13.77,37.58L17.78,32.51Q18.70,31.35 20.19,31.35L27.81,31.35Q29.30,31.35 30.22,32.51L34.23,37.58Z M0.19,24.00L10.42,13.77L15.49,17.78Q16.65,18.70 16.65,20.19L16.65,27.81Q16.65,29.30 15.49,30.22L10.42,34.23Z"/></svg><span>银柿财经</span></div>
<div class="wk wb" style="left:1179px;top:303px"><svg width="48" height="48" viewBox="0 0 48 48"><path d="M24.00,0.19L34.23,10.42L30.22,15.49Q29.30,16.65 27.81,16.65L20.19,16.65Q18.70,16.65 17.78,15.49L13.77,10.42Z M47.81,24.00L37.58,34.23L32.51,30.22Q31.35,29.30 31.35,27.81L31.35,20.19Q31.35,18.70 32.51,17.78L37.58,13.77Z M24.00,47.81L13.77,37.58L17.78,32.51Q18.70,31.35 20.19,31.35L27.81,31.35Q29.30,31.35 30.22,32.51L34.23,37.58Z M0.19,24.00L10.42,13.77L15.49,17.78Q16.65,18.70 16.65,20.19L16.65,27.81Q16.65,29.30 15.49,30.22L10.42,34.23Z"/></svg><span>银柿财经</span></div>
<div class="wk wb" style="left:1187px;top:464px"><svg width="48" height="48" viewBox="0 0 48 48"><path d="M24.00,0.19L34.23,10.42L30.22,15.49Q29.30,16.65 27.81,16.65L20.19,16.65Q18.70,16.65 17.78,15.49L13.77,10.42Z M47.81,24.00L37.58,34.23L32.51,30.22Q31.35,29.30 31.35,27.81L31.35,20.19Q31.35,18.70 32.51,17.78L37.58,13.77Z M24.00,47.81L13.77,37.58L17.78,32.51Q18.70,31.35 20.19,31.35L27.81,31.35Q29.30,31.35 30.22,32.51L34.23,37.58Z M0.19,24.00L10.42,13.77L15.49,17.78Q16.65,18.70 16.65,20.19L16.65,27.81Q16.65,29.30 15.49,30.22L10.42,34.23Z"/></svg><span>银柿财经</span></div>
<div class="wk wb" style="left:1179px;top:812px"><svg width="48" height="48" viewBox="0 0 48 48"><path d="M24.00,0.19L34.23,10.42L30.22,15.49Q29.30,16.65 27.81,16.65L20.19,16.65Q18.70,16.65 17.78,15.49L13.77,10.42Z M47.81,24.00L37.58,34.23L32.51,30.22Q31.35,29.30 31.35,27.81L31.35,20.19Q31.35,18.70 32.51,17.78L37.58,13.77Z M24.00,47.81L13.77,37.58L17.78,32.51Q18.70,31.35 20.19,31.35L27.81,31.35Q29.30,31.35 30.22,32.51L34.23,37.58Z M0.19,24.00L10.42,13.77L15.49,17.78Q16.65,18.70 16.65,20.19L16.65,27.81Q16.65,29.30 15.49,30.22L10.42,34.23Z"/></svg><span>银柿财经</span></div>
<div class="wk wb" style="left:1321px;top:301px"><svg width="48" height="48" viewBox="0 0 48 48"><path d="M24.00,0.19L34.23,10.42L30.22,15.49Q29.30,16.65 27.81,16.65L20.19,16.65Q18.70,16.65 17.78,15.49L13.77,10.42Z M47.81,24.00L37.58,34.23L32.51,30.22Q31.35,29.30 31.35,27.81L31.35,20.19Q31.35,18.70 32.51,17.78L37.58,13.77Z M24.00,47.81L13.77,37.58L17.78,32.51Q18.70,31.35 20.19,31.35L27.81,31.35Q29.30,31.35 30.22,32.51L34.23,37.58Z M0.19,24.00L10.42,13.77L15.49,17.78Q16.65,18.70 16.65,20.19L16.65,27.81Q16.65,29.30 15.49,30.22L10.42,34.23Z"/></svg><span>银柿财经</span></div>
<div class="wk wb" style="left:1336px;top:464px"><svg width="48" height="48" viewBox="0 0 48 48"><path d="M24.00,0.19L34.23,10.42L30.22,15.49Q29.30,16.65 27.81,16.65L20.19,16.65Q18.70,16.65 17.78,15.49L13.77,10.42Z M47.81,24.00L37.58,34.23L32.51,30.22Q31.35,29.30 31.35,27.81L31.35,20.19Q31.35,18.70 32.51,17.78L37.58,13.77Z M24.00,47.81L13.77,37.58L17.78,32.51Q18.70,31.35 20.19,31.35L27.81,31.35Q29.30,31.35 30.22,32.51L34.23,37.58Z M0.19,24.00L10.42,13.77L15.49,17.78Q16.65,18.70 16.65,20.19L16.65,27.81Q16.65,29.30 15.49,30.22L10.42,34.23Z"/></svg><span>银柿财经</span></div>
<div class="wk wb" style="left:1302px;top:560px"><svg width="48" height="48" viewBox="0 0 48 48"><path d="M24.00,0.19L34.23,10.42L30.22,15.49Q29.30,16.65 27.81,16.65L20.19,16.65Q18.70,16.65 17.78,15.49L13.77,10.42Z M47.81,24.00L37.58,34.23L32.51,30.22Q31.35,29.30 31.35,27.81L31.35,20.19Q31.35,18.70 32.51,17.78L37.58,13.77Z M24.00,47.81L13.77,37.58L17.78,32.51Q18.70,31.35 20.19,31.35L27.81,31.35Q29.30,31.35 30.22,32.51L34.23,37.58Z M0.19,24.00L10.42,13.77L15.49,17.78Q16.65,18.70 16.65,20.19L16.65,27.81Q16.65,29.30 15.49,30.22L10.42,34.23Z"/></svg><span>银柿财经</span></div>
<div class="wk wb" style="left:1332px;top:638px"><svg width="48" height="48" viewBox="0 0 48 48"><path d="M24.00,0.19L34.23,10.42L30.22,15.49Q29.30,16.65 27.81,16.65L20.19,16.65Q18.70,16.65 17.78,15.49L13.77,10.42Z M47.81,24.00L37.58,34.23L32.51,30.22Q31.35,29.30 31.35,27.81L31.35,20.19Q31.35,18.70 32.51,17.78L37.58,13.77Z M24.00,47.81L13.77,37.58L17.78,32.51Q18.70,31.35 20.19,31.35L27.81,31.35Q29.30,31.35 30.22,32.51L34.23,37.58Z M0.19,24.00L10.42,13.77L15.49,17.78Q16.65,18.70 16.65,20.19L16.65,27.81Q16.65,29.30 15.49,30.22L10.42,34.23Z"/></svg><span>银柿财经</span></div>
<div class="wk wb" style="left:1331px;top:806px"><svg width="48" height="48" viewBox="0 0 48 48"><path d="M24.00,0.19L34.23,10.42L30.22,15.49Q29.30,16.65 27.81,16.65L20.19,16.65Q18.70,16.65 17.78,15.49L13.77,10.42Z M47.81,24.00L37.58,34.23L32.51,30.22Q31.35,29.30 31.35,27.81L31.35,20.19Q31.35,18.70 32.51,17.78L37.58,13.77Z M24.00,47.81L13.77,37.58L17.78,32.51Q18.70,31.35 20.19,31.35L27.81,31.35Q29.30,31.35 30.22,32.51L34.23,37.58Z M0.19,24.00L10.42,13.77L15.49,17.78Q16.65,18.70 16.65,20.19L16.65,27.81Q16.65,29.30 15.49,30.22L10.42,34.23Z"/></svg><span>银柿财经</span></div>
<div class="wk ws" style="left:562px;top:682px"><svg width="48" height="48" viewBox="0 0 48 48"><path d="M24.00,0.19L34.23,10.42L30.22,15.49Q29.30,16.65 27.81,16.65L20.19,16.65Q18.70,16.65 17.78,15.49L13.77,10.42Z M47.81,24.00L37.58,34.23L32.51,30.22Q31.35,29.30 31.35,27.81L31.35,20.19Q31.35,18.70 32.51,17.78L37.58,13.77Z M24.00,47.81L13.77,37.58L17.78,32.51Q18.70,31.35 20.19,31.35L27.81,31.35Q29.30,31.35 30.22,32.51L34.23,37.58Z M0.19,24.00L10.42,13.77L15.49,17.78Q16.65,18.70 16.65,20.19L16.65,27.81Q16.65,29.30 15.49,30.22L10.42,34.23Z"/></svg><span>银柿财经</span></div>
<div class="wk ws" style="left:878px;top:345px"><svg width="48" height="48" viewBox="0 0 48 48"><path d="M24.00,0.19L34.23,10.42L30.22,15.49Q29.30,16.65 27.81,16.65L20.19,16.65Q18.70,16.65 17.78,15.49L13.77,10.42Z M47.81,24.00L37.58,34.23L32.51,30.22Q31.35,29.30 31.35,27.81L31.35,20.19Q31.35,18.70 32.51,17.78L37.58,13.77Z M24.00,47.81L13.77,37.58L17.78,32.51Q18.70,31.35 20.19,31.35L27.81,31.35Q29.30,31.35 30.22,32.51L34.23,37.58Z M0.19,24.00L10.42,13.77L15.49,17.78Q16.65,18.70 16.65,20.19L16.65,27.81Q16.65,29.30 15.49,30.22L10.42,34.23Z"/></svg><span>银柿财经</span></div>
<div class="wk ws" style="left:878px;top:514px"><svg width="48" height="48" viewBox="0 0 48 48"><path d="M24.00,0.19L34.23,10.42L30.22,15.49Q29.30,16.65 27.81,16.65L20.19,16.65Q18.70,16.65 17.78,15.49L13.77,10.42Z M47.81,24.00L37.58,34.23L32.51,30.22Q31.35,29.30 31.35,27.81L31.35,20.19Q31.35,18.70 32.51,17.78L37.58,13.77Z M24.00,47.81L13.77,37.58L17.78,32.51Q18.70,31.35 20.19,31.35L27.81,31.35Q29.30,31.35 30.22,32.51L34.23,37.58Z M0.19,24.00L10.42,13.77L15.49,17.78Q16.65,18.70 16.65,20.19L16.65,27.81Q16.65,29.30 15.49,30.22L10.42,34.23Z"/></svg><span>银柿财经</span></div>
<div class="wk ws" style="left:877px;top:684px"><svg width="48" height="48" viewBox="0 0 48 48"><path d="M24.00,0.19L34.23,10.42L30.22,15.49Q29.30,16.65 27.81,16.65L20.19,16.65Q18.70,16.65 17.78,15.49L13.77,10.42Z M47.81,24.00L37.58,34.23L32.51,30.22Q31.35,29.30 31.35,27.81L31.35,20.19Q31.35,18.70 32.51,17.78L37.58,13.77Z M24.00,47.81L13.77,37.58L17.78,32.51Q18.70,31.35 20.19,31.35L27.81,31.35Q29.30,31.35 30.22,32.51L34.23,37.58Z M0.19,24.00L10.42,13.77L15.49,17.78Q16.65,18.70 16.65,20.19L16.65,27.81Q16.65,29.30 15.49,30.22L10.42,34.23Z"/></svg><span>银柿财经</span></div>
<div class="wk ws" style="left:877px;top:854px"><svg width="48" height="48" viewBox="0 0 48 48"><path d="M24.00,0.19L34.23,10.42L30.22,15.49Q29.30,16.65 27.81,16.65L20.19,16.65Q18.70,16.65 17.78,15.49L13.77,10.42Z M47.81,24.00L37.58,34.23L32.51,30.22Q31.35,29.30 31.35,27.81L31.35,20.19Q31.35,18.70 32.51,17.78L37.58,13.77Z M24.00,47.81L13.77,37.58L17.78,32.51Q18.70,31.35 20.19,31.35L27.81,31.35Q29.30,31.35 30.22,32.51L34.23,37.58Z M0.19,24.00L10.42,13.77L15.49,17.78Q16.65,18.70 16.65,20.19L16.65,27.81Q16.65,29.30 15.49,30.22L10.42,34.23Z"/></svg><span>银柿财经</span></div>
<div class="wk ws" style="left:1134px;top:349px"><svg width="48" height="48" viewBox="0 0 48 48"><path d="M24.00,0.19L34.23,10.42L30.22,15.49Q29.30,16.65 27.81,16.65L20.19,16.65Q18.70,16.65 17.78,15.49L13.77,10.42Z M47.81,24.00L37.58,34.23L32.51,30.22Q31.35,29.30 31.35,27.81L31.35,20.19Q31.35,18.70 32.51,17.78L37.58,13.77Z M24.00,47.81L13.77,37.58L17.78,32.51Q18.70,31.35 20.19,31.35L27.81,31.35Q29.30,31.35 30.22,32.51L34.23,37.58Z M0.19,24.00L10.42,13.77L15.49,17.78Q16.65,18.70 16.65,20.19L16.65,27.81Q16.65,29.30 15.49,30.22L10.42,34.23Z"/></svg><span>银柿财经</span></div>
<div class="wk ws" style="left:1134px;top:517px"><svg width="48" height="48" viewBox="0 0 48 48"><path d="M24.00,0.19L34.23,10.42L30.22,15.49Q29.30,16.65 27.81,16.65L20.19,16.65Q18.70,16.65 17.78,15.49L13.77,10.42Z M47.81,24.00L37.58,34.23L32.51,30.22Q31.35,29.30 31.35,27.81L31.35,20.19Q31.35,18.70 32.51,17.78L37.58,13.77Z M24.00,47.81L13.77,37.58L17.78,32.51Q18.70,31.35 20.19,31.35L27.81,31.35Q29.30,31.35 30.22,32.51L34.23,37.58Z M0.19,24.00L10.42,13.77L15.49,17.78Q16.65,18.70 16.65,20.19L16.65,27.81Q16.65,29.30 15.49,30.22L10.42,34.23Z"/></svg><span>银柿财经</span></div>
<div class="wk ws" style="left:1132px;top:690px"><svg width="48" height="48" viewBox="0 0 48 48"><path d="M24.00,0.19L34.23,10.42L30.22,15.49Q29.30,16.65 27.81,16.65L20.19,16.65Q18.70,16.65 17.78,15.49L13.77,10.42Z M47.81,24.00L37.58,34.23L32.51,30.22Q31.35,29.30 31.35,27.81L31.35,20.19Q31.35,18.70 32.51,17.78L37.58,13.77Z M24.00,47.81L13.77,37.58L17.78,32.51Q18.70,31.35 20.19,31.35L27.81,31.35Q29.30,31.35 30.22,32.51L34.23,37.58Z M0.19,24.00L10.42,13.77L15.49,17.78Q16.65,18.70 16.65,20.19L16.65,27.81Q16.65,29.30 15.49,30.22L10.42,34.23Z"/></svg><span>银柿财经</span></div>
<div class="wk ws" style="left:1128px;top:851px"><svg width="48" height="48" viewBox="0 0 48 48"><path d="M24.00,0.19L34.23,10.42L30.22,15.49Q29.30,16.65 27.81,16.65L20.19,16.65Q18.70,16.65 17.78,15.49L13.77,10.42Z M47.81,24.00L37.58,34.23L32.51,30.22Q31.35,29.30 31.35,27.81L31.35,20.19Q31.35,18.70 32.51,17.78L37.58,13.77Z M24.00,47.81L13.77,37.58L17.78,32.51Q18.70,31.35 20.19,31.35L27.81,31.35Q29.30,31.35 30.22,32.51L34.23,37.58Z M0.19,24.00L10.42,13.77L15.49,17.78Q16.65,18.70 16.65,20.19L16.65,27.81Q16.65,29.30 15.49,30.22L10.42,34.23Z"/></svg><span>银柿财经</span></div>
</div>
</div>
</body>
</html>
